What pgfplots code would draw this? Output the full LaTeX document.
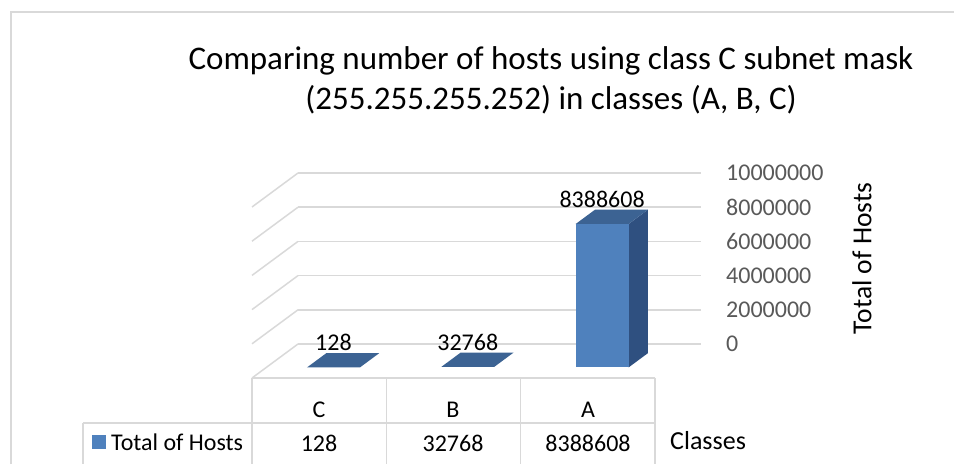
\documentclass[border=0pt]{standalone}
\usepackage{pgfplots}
\pgfplotsset{compat=1.18}
\usepackage{fontspec}
\setmainfont{Carlito}
\definecolor{frontc}{HTML}{4F81BD}
\definecolor{sidec}{HTML}{2F5080}
\definecolor{topc}{HTML}{3C6393}
\definecolor{gridc}{HTML}{D9D9D9}
\definecolor{tickc}{HTML}{595959}
\newcommand{\fs}{\fontsize{24}{28}\selectfont}
\begin{document}
\begin{tikzpicture}
\useasboundingbox (0,0) rectangle (954pt,464pt);
% chart border
\draw[gridc, line width=1.5pt] (11pt,0pt) -- (11pt,452pt) -- (954pt,452pt);
% title
\node[align=center, font=\fontsize{33}{40}\selectfont] at (551pt,384pt) {Comparing number of hosts using class C subnet mask\\(255.255.255.252) in classes (A, B, C)};

% 3D bars and walls
\begin{axis}[
  at={(319.17pt,86pt)}, anchor=origin,
  x={(134.33pt,0pt)}, y={(46pt,34pt)}, z={(0pt,17.1pt)},
  xmin=-0.5, xmax=2.5, ymin=0, ymax=1, zmin=0, zmax=10,
  z filter/.expression={z/1000000},
  enlargelimits=false, clip=false,
  xtick=\empty, ytick=\empty, ztick={0,2,...,10}, zticklabels={},
  zmajorgrids=true,
  major grid style={draw=gridc, line width=1.5pt},
  axis line style={draw=none}, tick style={draw=none},
]
% C
\addplot3[fill=topc, draw=none] coordinates {(-0.197,0.31,128) (0.197,0.31,128) (0.197,0.73,128) (-0.197,0.73,128)} -- cycle;
% B
\addplot3[fill=topc, draw=none] coordinates {(0.803,0.31,32768) (1.197,0.31,32768) (1.197,0.73,32768) (0.803,0.73,32768)} -- cycle;
% A
\addplot3[fill=sidec, draw=none] coordinates {(2.197,0.31,0) (2.197,0.73,0) (2.197,0.73,8388608) (2.197,0.31,8388608)} -- cycle;
\addplot3[fill=topc, draw=none] coordinates {(1.803,0.31,8388608) (2.197,0.31,8388608) (2.197,0.73,8388608) (1.803,0.73,8388608)} -- cycle;
\addplot3[fill=frontc, draw=none] coordinates {(1.803,0.31,0) (2.197,0.31,0) (2.197,0.31,8388608) (1.803,0.31,8388608)} -- cycle;
% data labels
\addplot3[only marks, mark=none, nodes near coords, point meta=explicit symbolic,
  nodes near coords style={anchor=center, yshift=25pt, font=\fs, text=black}]
  coordinates {(0,0.31,128) [128] (1,0.31,32768) [32768] (2,0.31,8388608) [8388608]};
\end{axis}

% value axis labels (back wall)
\begin{axis}[
  at={(298pt,120pt)}, anchor=south west, scale only axis,
  width=405pt, height=171pt,
  xmin=0, xmax=1, ymin=0, ymax=10000000,
  ytick={0,2000000,4000000,6000000,8000000,10000000},
  scaled y ticks=false,
  yticklabel pos=right,
  hide x axis,
  axis line style={draw=none}, tick style={draw=none},
  /pgf/number format/.cd, fixed, precision=0, 1000 sep={}, assume math mode=true,
  /pgfplots/.cd,
  yticklabel style={anchor=west, inner sep=0pt, xshift=23pt, font=\fs, text=tickc},
  ylabel={Total of Hosts},
  every axis y label/.style={at={(rel axis cs:1,0.5)}, rotate=90, anchor=center, yshift=-159pt, font=\fontsize{27.5}{32}\selectfont},
]
\addplot[draw=none] coordinates {(0,0)};
\end{axis}

% data table
\draw[gridc, line width=1.5pt] (252pt,86pt) -- (655pt,86pt);
\draw[gridc, line width=1.5pt] (83pt,41pt) -- (655pt,41pt);
\foreach \xx in {252,386.5,520.5,655} \draw[gridc, line width=1.5pt] (\xx pt,86pt) -- (\xx pt,0pt);
\draw[gridc, line width=1.5pt] (83pt,41pt) -- (83pt,0pt);
\node[font=\fs] at (319pt,54pt) {C};
\node[font=\fs] at (453pt,54pt) {B};
\node[font=\fs] at (588pt,54pt) {A};
\node[font=\fs] at (319pt,21pt) {128};
\node[font=\fs] at (453pt,21pt) {32768};
\node[font=\fs] at (588pt,21pt) {8388608};
\fill[frontc] (92pt,15pt) rectangle (106pt,29pt);
\node[font=\fs, anchor=west, inner sep=0pt] at (111pt,22pt) {Total of Hosts};
\node[font=\fontsize{26}{30}\selectfont, anchor=west, inner sep=0pt] at (670pt,23pt) {Classes};
\end{tikzpicture}
\end{document}
